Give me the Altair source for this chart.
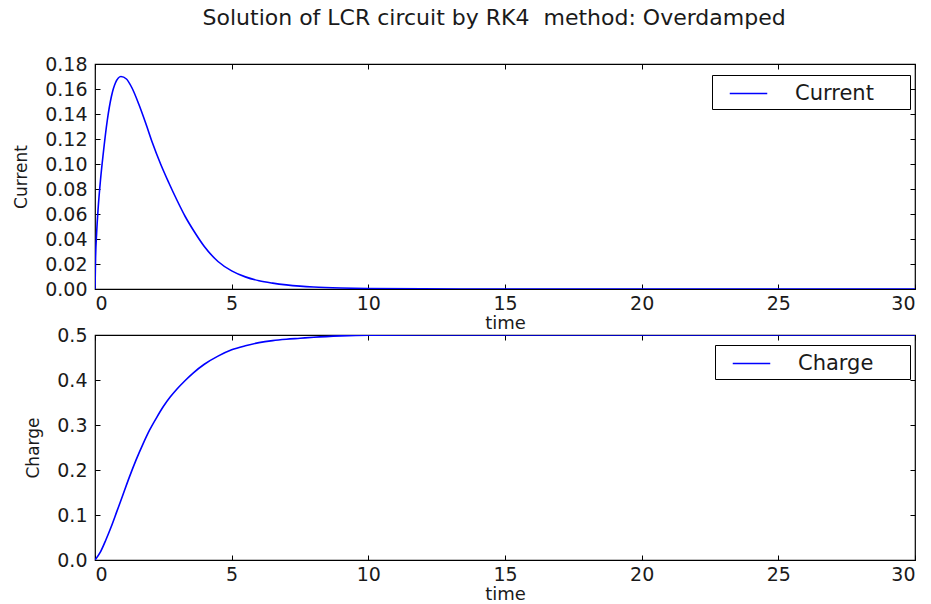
import altair as alt
import pandas as pd

TITLE = "Solution of LCR circuit by RK4\u00a0 method: Overdamped"

# ---- data ----
time_current = [0, 0.02, 0.06, 0.12, 0.2, 0.3, 0.45, 0.6, 0.75, 0.95, 1.15, 1.35,
                1.6, 1.85, 2.1, 2.4, 2.7, 3.0, 3.3, 3.6, 4.0, 4.5, 5.0, 5.5, 6.0,
                6.5, 7.0, 7.5, 8.0, 9.0, 10, 12, 15, 20, 25, 30]
current_vals = [0, 0.024, 0.045, 0.066, 0.087, 0.108, 0.135, 0.154, 0.165, 0.170,
                0.168, 0.161, 0.148, 0.133, 0.117, 0.100, 0.085, 0.071, 0.058,
                0.047, 0.034, 0.022, 0.0145, 0.0097, 0.0066, 0.0047, 0.0033,
                0.0023, 0.0016, 0.0008, 0.0004, 0.0001, 0, 0, 0, 0]

time_charge = [0, 0.2, 0.4, 0.6, 0.8, 1.0, 1.25, 1.5, 1.75, 2.0, 2.25, 2.5, 2.75,
               3.0, 3.3, 3.6, 4.0, 4.5, 5.0, 5.5, 6.0, 6.5, 7.0, 7.5, 8.0, 9.0,
               10, 12, 15, 20, 25, 30]
charge_vals = [0, 0.018, 0.045, 0.075, 0.108, 0.141, 0.183, 0.222, 0.257, 0.289,
               0.316, 0.341, 0.362, 0.380, 0.399, 0.416, 0.435, 0.453, 0.467,
               0.476, 0.483, 0.4875, 0.4905, 0.4927, 0.495, 0.498, 0.4995, 0.5,
               0.5, 0.5, 0.5, 0.5]

x_ticks = [0, 5, 10, 15, 20, 25, 30]
current_ticks = [0, 0.02, 0.04, 0.06, 0.08, 0.10, 0.12, 0.14, 0.16, 0.18]
charge_ticks = [0, 0.1, 0.2, 0.3, 0.4, 0.5]

df_current = pd.DataFrame({"t": time_current, "v": current_vals, "series": "Current"})
df_charge = pd.DataFrame({"t": time_charge, "v": charge_vals, "series": "Charge"})

W, H = 820, 225
FONT = "DejaVu Sans"
TXT = "#1a1a1a"
BL = "\u2800"


def panel(df, ylabel, ydomain, yticks, yfmt, lx, ly, pad_chars):
    base = alt.Chart(df)
    xs = alt.Scale(domain=[0, 30], nice=False, zero=False)
    ys = alt.Scale(domain=ydomain, nice=False, zero=False)
    main = base.mark_line(strokeWidth=1.6, interpolate="monotone", clip=True).encode(
        x=alt.X("t:Q", scale=xs, axis=alt.Axis(
            title="time", values=x_ticks, format="d", ticks=False, grid=False,
            domain=False, labelFont=FONT, labelFontSize=19, labelColor=TXT,
            labelPadding=5, titleFont=FONT, titleFontSize=18, titleFontWeight="normal",
            titleColor=TXT, titlePadding=1)),
        y=alt.Y("v:Q", scale=ys, axis=alt.Axis(
            title=ylabel, values=yticks, format=yfmt, ticks=False, grid=False,
            domain=False, labelFont=FONT, labelFontSize=19, labelColor=TXT,
            labelPadding=8, titleFont=FONT, titleFontSize=17, titleFontWeight="normal",
            titleColor=TXT, titlePadding=14)),
        color=alt.Color("series:N", scale=alt.Scale(range=["#0000ff"]), legend=alt.Legend(
            title=None, orient="none", legendX=lx, legendY=ly, strokeColor="black",
            fillColor="white", padding=5, cornerRadius=0,
            symbolType="M-1.5,0L1.5,0", symbolSize=625, symbolStrokeWidth=1.5,
            symbolOffset=18, labelOffset=33, labelFont=FONT, labelFontSize=21,
            labelColor=TXT, labelExpr="datum.label + '" + BL * pad_chars + "'")),
    )
    top_right = base.mark_line(opacity=0).encode(
        x=alt.X("t:Q", scale=xs, axis=alt.Axis(
            orient="bottom", offset=-H, labels=False, title=None, values=x_ticks,
            tickSize=5, tickColor="black", domain=False, grid=False)),
        y=alt.Y("v:Q", scale=ys, axis=alt.Axis(
            orient="left", offset=-W, labels=False, title=None, values=yticks,
            tickSize=5, tickColor="black", domain=False, grid=False)),
    )
    bottom_left = base.mark_line(opacity=0).encode(
        x=alt.X("t:Q", scale=xs, axis=alt.Axis(
            orient="top", offset=-H, labels=False, title=None, values=x_ticks,
            tickSize=5, tickColor="black", domain=False, grid=False)),
        y=alt.Y("v:Q", scale=ys, axis=alt.Axis(
            orient="right", offset=-W, labels=False, title=None, values=yticks,
            tickSize=5, tickColor="black", domain=False, grid=False)),
    )
    return alt.layer(main, top_right, bottom_left).resolve_axis(
        x="independent", y="independent").properties(width=W, height=H)


top = panel(df_current, "Current", [0, 0.18], current_ticks, ".2f", 617, 11, 2)
bottom = panel(df_charge, "Charge", [0, 0.5], charge_ticks, ".1f", 620, 10, 2)

chart = alt.vconcat(top, bottom, spacing=46, bounds="flush").resolve_scale(
    color="independent"
).properties(
    title=alt.TitleParams(TITLE, font=FONT, fontSize=22, fontWeight="normal",
                          color=TXT, anchor="middle", offset=24, dx=30),
    padding={"left": 12, "top": 7, "right": 10, "bottom": 0},
    background="white",
).configure_view(stroke="black", strokeWidth=1.2)

chart.save("out.html", embed_options={"renderer": "svg", "actions": False})
